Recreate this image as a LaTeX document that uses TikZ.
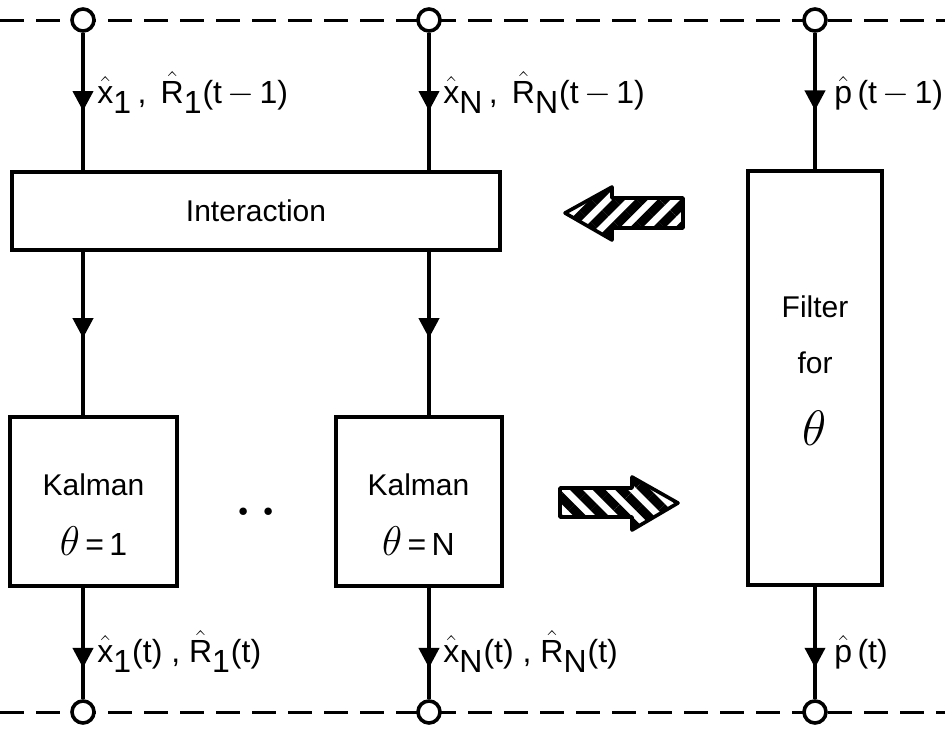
\documentclass[tikz,border=0pt]{standalone}
\usepackage{amsmath}
\usepackage{fontspec}
\setsansfont{Liberation Sans}
\usetikzlibrary{arrows.meta,positioning,calc,patterns.meta,decorations.markings}

\newcommand{\sub}[1]{_{\textstyle\mathsf{#1}}}

\begin{document}
\begin{tikzpicture}[x=0.5pt,y=-0.5pt,
  blockbox/.style={draw,line width=2pt,inner sep=0pt,align=center,font=\sffamily\fontsize{15}{18}\selectfont},
  port/.style={draw,circle,line width=1.8pt,fill=white,minimum size=11pt,inner sep=0pt},
  bus/.style={line width=1.5pt,dash pattern=on 12pt off 6pt},
  sig/.style={line width=2pt},
  midarr/.style={postaction={decorate},decoration={markings,mark=at position #1 with {\arrow{Triangle[length=10pt,width=10pt]}}}},
  lbl/.style={anchor=base west,inner sep=0pt,font=\sffamily\fontsize{16}{18}\selectfont},
  hatcharrow/.style={draw,line width=1.8pt,line join=round}]
\useasboundingbox (0,0) rectangle (952,728);

% time buses
\coordinate (topL) at (0,20);
\coordinate (topR) at (945,20);
\coordinate (botL) at (0,712);
\coordinate (botR) at (945,712);
\draw[bus] (topL) -- (topR);
\draw[bus] (botL) -- (botR);

\node[port] (t1) at (83,20) {};
\node[port] (tN) at (429,20) {};
\node[port] (tp) at (815,20) {};
\node[port] (b1) at (83,712) {};
\node[port] (bN) at (429,712) {};
\node[port] (bp) at (815,712) {};

% blocks
\node[blockbox,minimum width=244pt,minimum height=39pt] (inter) at (256,211) {Interaction};
\node[blockbox,minimum width=83.5pt,minimum height=84.5pt] (kal1) at (93.5,501) {\rule{0pt}{24pt}Kalman\\[12pt]{\fontsize{20}{20}\selectfont$\theta$}{\fontsize{16}{16}\selectfont\,=\,1}};
\node[blockbox,minimum width=83pt,minimum height=84.5pt] (kalN) at (418.5,501) {\rule{0pt}{24pt}Kalman\\[12pt]{\fontsize{20}{20}\selectfont$\theta$}{\fontsize{16}{16}\selectfont\,=\,N}};
\node[blockbox,minimum width=67pt,minimum height=207pt] (filt) at (815,378) {Filter\\[10pt]for\\[18pt]{\fontsize{24}{24}\selectfont$\theta$}\rule[-7pt]{0pt}{0pt}};
\node[anchor=base,inner sep=0pt,font=\bfseries\fontsize{26}{26}\selectfont] (dots) at (256,515) {.\,.};

% hatched transfer arrows
\draw[hatcharrow,pattern={Lines[angle=45,distance=8pt,line width=4.5pt]}]
  (565,213) -- (612,187) -- (612,198) -- (683,198) -- (683,228) -- (612,228) -- (612,240) -- cycle;
\draw[hatcharrow,pattern={Lines[angle=-45,distance=8pt,line width=4.5pt]}]
  (678,503) -- (632,477) -- (632,488) -- (560,488) -- (560,517) -- (632,517) -- (632,530) -- cycle;

% signal lines
\draw[sig,midarr=0.57] (t1) -- (t1 |- inter.north);
\draw[sig,midarr=0.57] (tN) -- (tN |- inter.north);
\draw[sig,midarr=0.57] (tp) -- (filt.north);
\draw[sig,midarr=0.53] (t1 |- inter.south) -- (t1 |- kal1.north);
\draw[sig,midarr=0.53] (tN |- inter.south) -- (tN |- kalN.north);
\draw[sig,midarr=0.72] (t1 |- kal1.south) -- (b1);
\draw[sig,midarr=0.72] (tN |- kalN.south) -- (bN);
\draw[sig,midarr=0.72] (filt.south) -- (bp);

% labels
\node[lbl] (lx1) at (97,103) {$\hat{\mathsf{x}}\sub{1}$\,,\, $\hat{\mathsf{R}}\sub{1}$(t\,$-$\,1)};
\node[lbl] (lxN) at (443,103) {$\hat{\mathsf{x}}\sub{N}$\,,\, $\hat{\mathsf{R}}\sub{N}$(t\,$-$\,1)};
\node[lbl] (lp) at (834,103) {$\hat{\mathsf{p}}$\,(t\,$-$\,1)};
\node[lbl] (ox1) at (97,662) {$\hat{\mathsf{x}}\sub{1}$(t) , $\hat{\mathsf{R}}\sub{1}$(t)};
\node[lbl] (oxN) at (443,662) {$\hat{\mathsf{x}}\sub{N}$(t) , $\hat{\mathsf{R}}\sub{N}$(t)};
\node[lbl] (op) at (834,662) {$\hat{\mathsf{p}}$\,(t)};
\end{tikzpicture}
\end{document}
